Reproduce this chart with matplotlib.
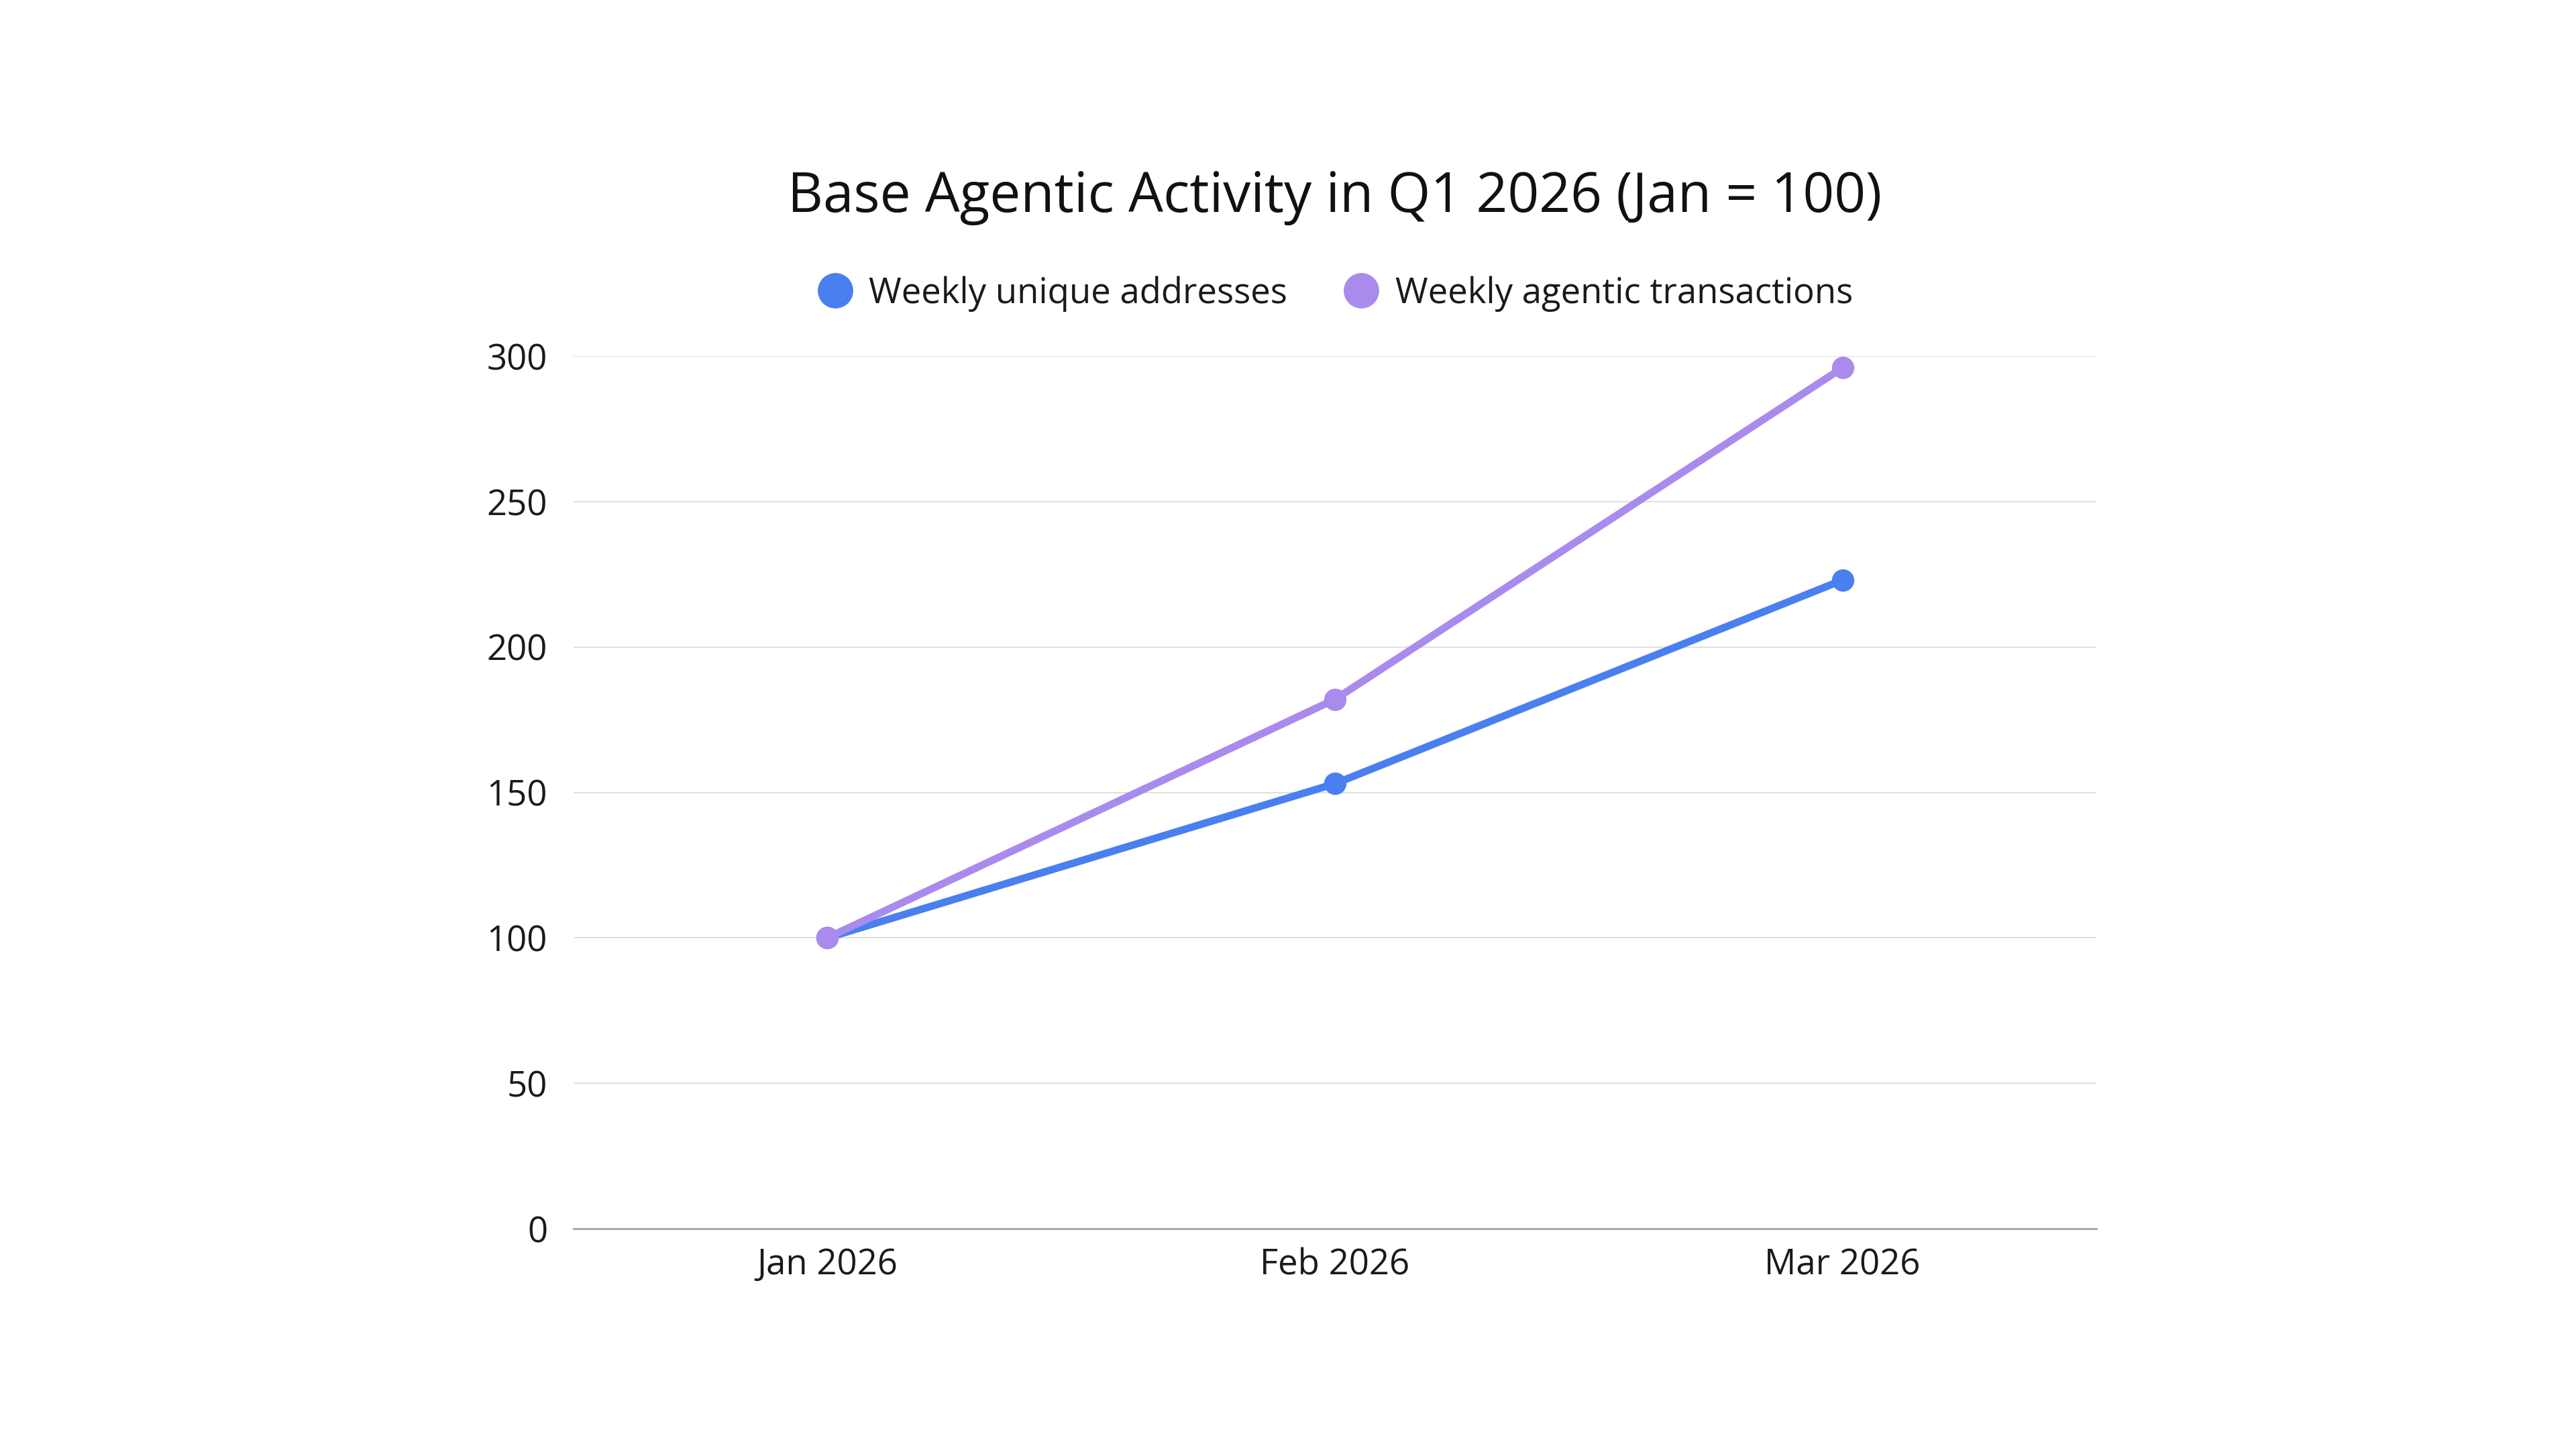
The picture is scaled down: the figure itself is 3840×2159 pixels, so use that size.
import matplotlib
matplotlib.use("Agg")
import matplotlib.pyplot as plt
from matplotlib.lines import Line2D

plt.rcParams['font.family'] = ['Open Sans', 'DejaVu Sans']

months = ["Jan 2026", "Feb 2026", "Mar 2026"]
unique_addresses = [100, 153, 223]
agentic_transactions = [100, 182, 296]
series_names = ["Weekly unique addresses", "Weekly agentic transactions"]
yticks = [0, 50, 100, 150, 200, 250, 300]

BLUE = "#4A7FEF"
PURPLE = "#A98BEE"

fig = plt.figure(figsize=(38.4, 21.59), dpi=100)
ax = fig.add_axes([855/3840, 1 - 1832/2159, (3125-855)/3840, (1832-531)/2159])

x = list(range(len(months)))
ax.plot(x, unique_addresses, color=BLUE, lw=8, marker='o', ms=23,
        solid_capstyle='round', clip_on=False, zorder=3)
ax.plot(x, agentic_transactions, color=PURPLE, lw=8, marker='o', ms=23,
        solid_capstyle='round', clip_on=False, zorder=4)

ax.set_xlim(-0.5, len(months) - 0.5)
ax.set_ylim(0, 300)
ax.set_xticks(x)
ax.set_xticklabels(months)
ax.set_yticks(yticks)
ax.set_yticklabels([str(v) for v in yticks])

ax.tick_params(axis='both', length=0, labelsize=38, colors='#1a1a1a')
ax.tick_params(axis='y', pad=28)
ax.tick_params(axis='x', pad=20)

for s in ['top', 'right', 'left']:
    ax.spines[s].set_visible(False)
ax.spines['bottom'].set_color('#AAAAAA')
ax.spines['bottom'].set_linewidth(2.2)
ax.grid(axis='y', color='#DDDDDD', lw=1.3)
ax.set_axisbelow(True)

fig.text(1990/3840, 1 - 295/2159, "Base Agentic Activity in Q1 2026 (Jan = 100)",
         ha='center', va='center', fontsize=59, color='#111111')

handles = [Line2D([], [], ls='none', marker='o', ms=37, color=BLUE),
           Line2D([], [], ls='none', marker='o', ms=37, color=PURPLE)]
fig.legend(handles, series_names, loc='center', ncol=2,
           bbox_to_anchor=(1990/3840, 1 - 438/2159), frameon=False,
           fontsize=38, handletextpad=0.45, columnspacing=1.6, handlelength=1.0,
           labelcolor='#1a1a1a')

fig.savefig("out.png", dpi=100, facecolor='white')
